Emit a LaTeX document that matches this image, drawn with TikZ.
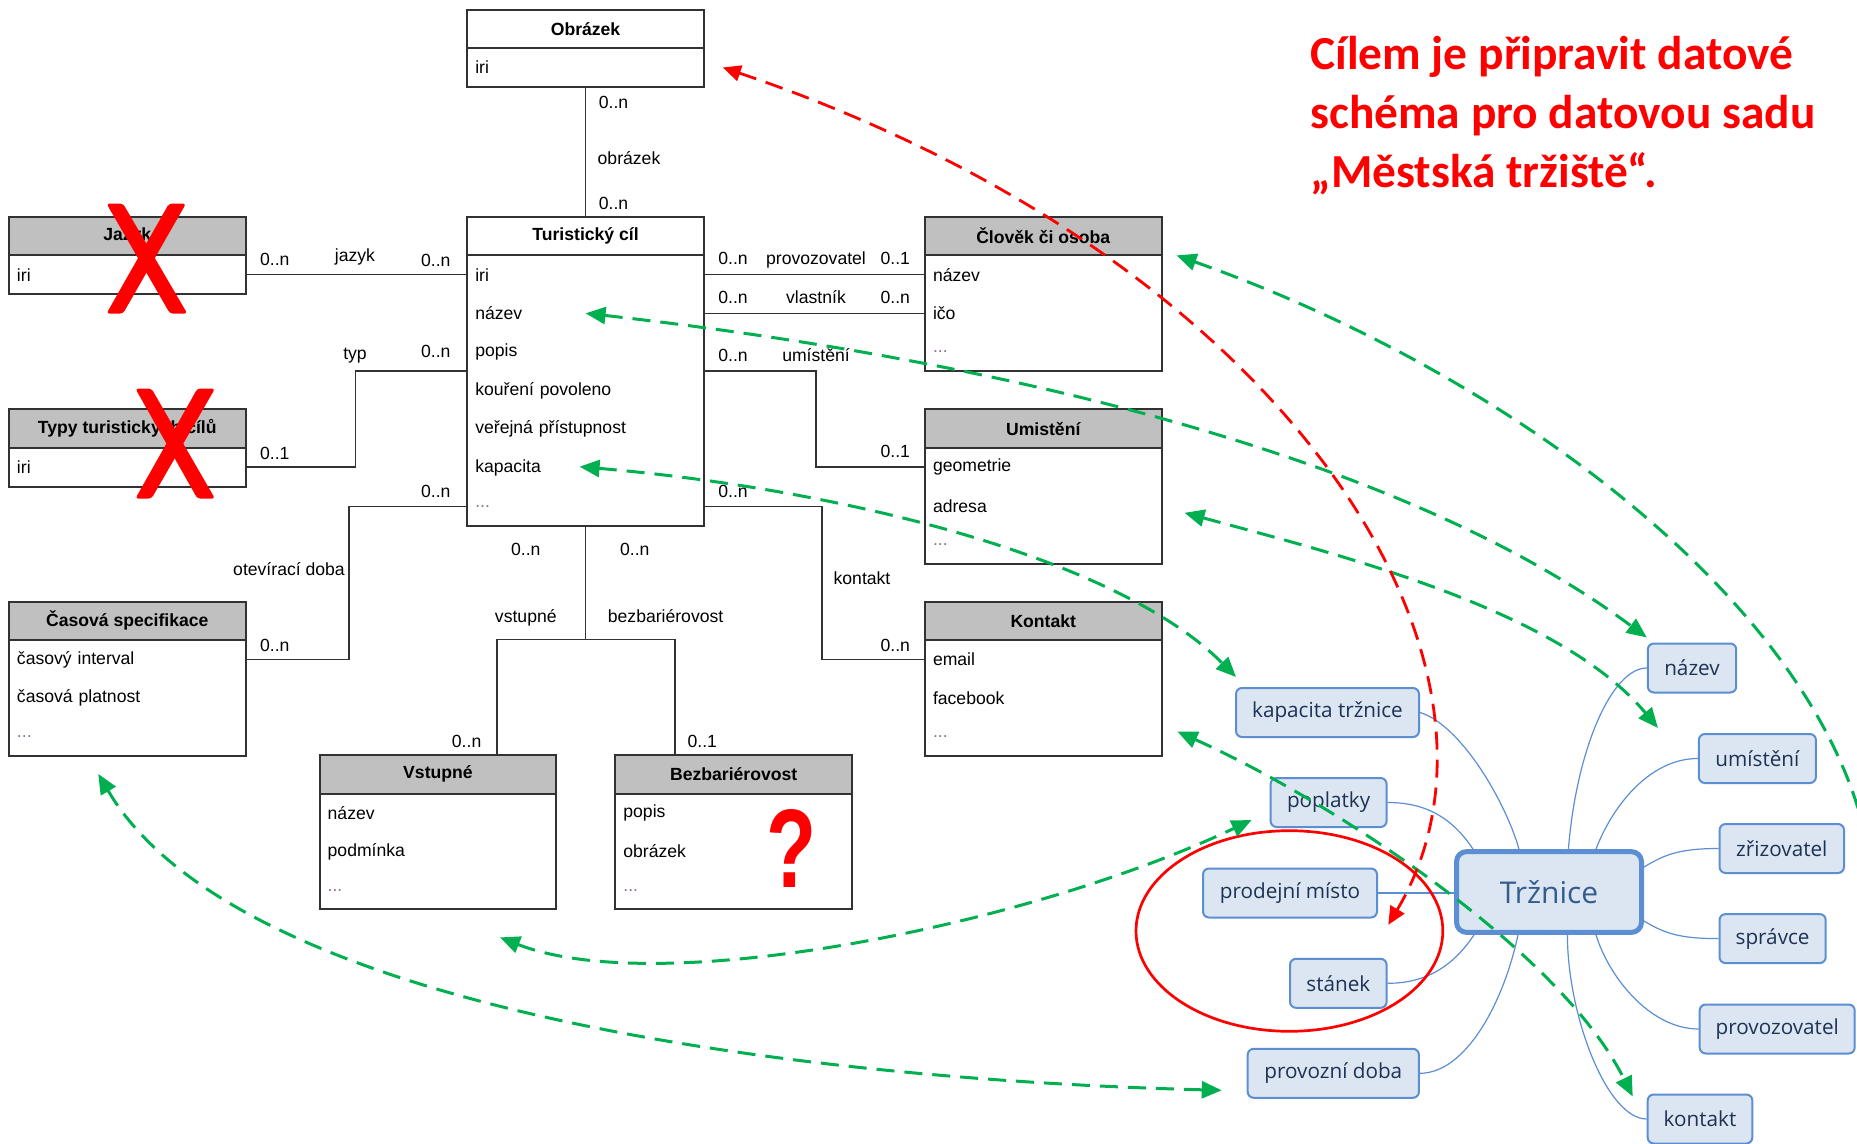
\documentclass[tikz,border=0pt]{standalone}
\usepackage{fontspec}
\setmainfont{Liberation Sans}
\newfontfamily\mmfont{Open Sans}
\newfontfamily\ttlfont{Carlito}
\usepackage{graphicx}
\usetikzlibrary{arrows.meta,calc}
\definecolor{boxgray}{RGB}{50,50,50}
\definecolor{hdrgray}{RGB}{192,192,192}
\definecolor{dotgray}{RGB}{140,110,150}
\definecolor{mmblue}{RGB}{92,142,210}
\definecolor{mmfill}{RGB}{220,230,242}
\definecolor{mmtext}{RGB}{30,50,84}
\definecolor{trtext}{RGB}{52,92,140}
\definecolor{ggreen}{RGB}{0,176,80}
\definecolor{rred}{RGB}{255,0,0}
\newcommand{\umlfont}{\fontsize{8.8}{10.5}\selectfont}
\tikzset{
  hdr/.style={draw=boxgray, line width=1pt, anchor=north west, minimum width=118.25pt, minimum height=19.3pt, inner sep=0pt, outer sep=0pt, font=\umlfont\bfseries},
  classbody/.style={draw=boxgray, line width=1pt, anchor=north west, minimum width=118.25pt, inner sep=0pt, outer sep=0pt},
  rowtxt/.style={anchor=north west, text width=110.25pt, inner xsep=4pt, inner ysep=0pt, minimum height=19.3pt, outer sep=0pt, align=left, font=\umlfont},
  conn/.style={draw=boxgray, line width=0.75pt},
  lbl/.style={anchor=base, inner sep=0pt, font=\umlfont},
  mm/.style={draw=mmblue, line width=1pt, fill=mmfill, rounded corners=3pt, minimum height=24.5pt, inner sep=0pt, font=\mmfont\fontsize{10.35}{12}\selectfont, text=mmtext},
  mmroot/.style={draw=mmblue, line width=2.5pt, fill=mmfill, rounded corners=5pt, minimum width=92.5pt, minimum height=40.35pt, inner sep=0pt, font=\mmfont\fontsize{15}{18}\selectfont, text=trtext},
  mmlink/.style={draw=mmblue, line width=0.6pt},
  garrow/.style={draw=ggreen, line width=1.5pt, dash pattern=on 9pt off 5pt, arrows={Triangle[length=10pt,width=8.5pt]-Triangle[length=10pt,width=8.5pt]}},
  garrowone/.style={draw=ggreen, line width=1.5pt, dash pattern=on 9pt off 5pt, arrows={Triangle[length=10pt,width=8.5pt]-}},
  rarrow/.style={draw=rred, line width=1.4pt, dash pattern=on 9pt off 5pt, arrows={Triangle[length=9pt,width=8pt]-Triangle[length=9pt,width=8pt]}},
  ttl/.style={anchor=base west, inner sep=0pt, text=rred, font=\ttlfont\bfseries\fontsize{23.7}{28}\selectfont}
}
% #1 name, #2 left, #3 top, #4 title, #5 header fill, #6 number of rows, #7 rows
\newcommand{\umlclass}[7]{%
  \node[hdr, fill=#5] (#1h) at (#2,#3) {\raisebox{-1pt}{#4}};
  \node[classbody, minimum height=#6*19.3pt] (#1b) at (#2,{#3+38.6}) {};
  \foreach \rowtext [count=\rowi] in {#7} {%
    \node[rowtxt] (#1\rowi) at (#2,{#3+38.6*\rowi}) {\rowtext};
  }%
}
\newcommand{\dotsrow}{{\color{dotgray}...}}
\begin{document}
\begin{tikzpicture}[x=0.5pt,y=-0.5pt]
\useasboundingbox (0,0) rectangle (1857,1144);
\fill[white] (0,0) rectangle (1857,1144);

% ---------- UML classes ----------
\umlclass{ob}{467.3}{9.6}{Obrázek}{white}{1}{iri}
\umlclass{tc}{467.3}{216.8}{Turistický cíl}{white}{7}{iri,název,popis,kouření povoleno,veřejná přístupnost,kapacita,\dotsrow}
\umlclass{jz}{9}{216.8}{Jazyk}{hdrgray}{1}{iri}
\umlclass{ty}{9}{409.3}{Typy turistických cílů}{hdrgray}{1}{iri}
\umlclass{cs}{9}{601.5}{Časová specifikace}{hdrgray}{3}{časový interval,časová platnost,\dotsrow}
\umlclass{cl}{925}{216.8}{Člověk či osoba}{hdrgray}{3}{název,ičo,\dotsrow}
\umlclass{um}{925}{409.3}{Umistění}{hdrgray}{3}{geometrie,adresa,\dotsrow}
\umlclass{ko}{925}{601.5}{Kontakt}{hdrgray}{3}{email,facebook,\dotsrow}
\umlclass{vs}{319.7}{755}{Vstupné}{hdrgray}{3}{název,podmínka,\dotsrow}
\umlclass{bz}{615.4}{755}{Bezbariérovost}{hdrgray}{3}{popis,obrázek,\dotsrow}

% ---------- UML connectors ----------
\draw[conn] (obb.south) -- (tch.north);
\draw[conn] (jz1.east) -- (tc1.west);
\draw[conn] (ty1.east) -- ++(110,0) |- (tc3.south west);
\draw[conn] (tc7.west) -- ++(-118.5,0) |- (cs1.east);
\draw[conn] (tc1.east) -- (cl1.west);
\draw[conn] (tc2.east) -- (cl2.west);
\draw[conn] (tc3.south east) -- ++(112,0) |- (um1.west);
\draw[conn] (tc7.east) -- ++(118,0) |- (ko1.west);
\draw[conn] (tcb.south) -- ++(0,114) coordinate (fork);
\coordinate (vsin) at ($(vsh.north)+(59,0)$);
\coordinate (bzin) at ($(bzh.north)+(-58.5,0)$);
\draw[conn] (vsin) |- (fork) -| (bzin);

% ---------- connector labels ----------
\node[lbl] (l1) at (613.5,109) {0..n};
\node[lbl] (l2) at (629,165) {obrázek};
\node[lbl] (l3) at (613.5,209.5) {0..n};
\node[lbl] (l4) at (274.8,266) {0..n};
\node[lbl] (l5) at (355,262) {jazyk};
\node[lbl] (l6) at (435.8,266.5) {0..n};
\node[lbl] (l7) at (355,360) {typ};
\node[lbl] (l8) at (435.8,357.5) {0..n};
\node[lbl] (l9) at (274.8,459) {0..1};
\node[lbl] (l10) at (435.8,497.5) {0..n};
\node[lbl] (l11) at (289,575) {otevírací doba};
\node[lbl] (l12) at (274.8,651) {0..n};
\node[lbl] (l13) at (525.8,555) {0..n};
\node[lbl] (l14) at (634.8,555) {0..n};
\node[lbl] (l15) at (525.8,622) {vstupné};
\node[lbl] (l16) at (665.6,622) {bezbariérovost};
\node[lbl] (l17) at (466.6,747) {0..n};
\node[lbl] (l18) at (702.3,747) {0..1};
\node[lbl] (l19) at (733,265) {0..n};
\node[lbl] (l20) at (816,265) {provozovatel};
\node[lbl] (l21) at (895.3,265) {0..1};
\node[lbl] (l22) at (733,304) {0..n};
\node[lbl] (l23) at (816,304) {vlastník};
\node[lbl] (l24) at (895.3,304) {0..n};
\node[lbl] (l25) at (733,362) {0..n};
\node[lbl] (l26) at (816,362) {umístění};
\node[lbl] (l27) at (895.3,458) {0..1};
\node[lbl] (l28) at (733,497.5) {0..n};
\node[lbl] (l29) at (862,584) {kontakt};
\node[lbl] (l30) at (895.3,651) {0..n};

% ---------- mind map ----------
\node[mmroot] (tr) at (1549,892) {Tržnice};
\node[mm, minimum width=91.5pt] (kap) at (1327.5,712.5) {kapacita tržnice};
\node[mm, minimum width=58pt] (pop) at (1328.6,802.5) {poplatky};
\node[mm, minimum width=87pt] (pm) at (1290,893) {prodejní místo};
\node[mm, minimum width=48.3pt] (st) at (1338.3,983.3) {stánek};
\node[mm, minimum width=85.6pt] (pd) at (1333.3,1073.3) {provozní doba};
\node[mm, minimum width=44.2pt] (naz) at (1692,668) {název};
\node[mm, minimum width=58.5pt] (umi) at (1757.4,758.5) {umístění};
\node[mm, minimum width=62.2pt] (zr) at (1781.8,848.5) {zřizovatel};
\node[mm, minimum width=53.1pt] (sp) at (1772.6,938.6) {správce};
\node[mm, minimum width=77.5pt] (pv) at (1777.2,1029) {provozovatel};
\node[mm, minimum width=52.3pt] (kt) at (1700,1119) {kontakt};

\draw[mmlink] (kap.east) .. controls +(40,12) and +(-14,-49) .. ($(tr.north)+(-30,0)$);
\draw[mmlink] (pop.east) .. controls +(40,0) and +(-20,-30) .. ($(tr.north)+(-76,0)$);
\draw[mmlink] (pm.east) -- (pm.east -| tr.west);
\draw[mmlink] (st.east) .. controls +(40,0) and +(-20,30) .. ($(tr.south)+(-75,0)$);
\draw[mmlink] (pd.east) .. controls +(45,0) and +(-15,70) .. ($(tr.south)+(-31,0)$);
\draw[mmlink] (naz.west) .. controls +(-35,0) and +(8,-100) .. ($(tr.north)+(19.4,0)$);
\draw[mmlink] (umi.west) .. controls +(-50,0) and +(15,-40) .. ($(tr.north)+(47,0)$);
\draw[mmlink] (zr.west) .. controls +(-40,0) and +(20,-12) .. ($(tr.east)+(0,-25)$);
\draw[mmlink] (sp.west) .. controls +(-40,0) and +(20,12) .. ($(tr.east)+(0,29)$);
\draw[mmlink] (pv.west) .. controls +(-50,0) and +(12,40) .. ($(tr.south)+(47,0)$);
\draw[mmlink] (kt.west) .. controls +(-40,0) and +(0,80) .. ($(tr.south)+(18.4,0)$);

% ---------- red ellipse ----------
\draw[rred, line width=1.35pt] (1289.4,931) ellipse [x radius=76.7pt, y radius=50.15pt];

% ---------- dashed mapping arrows ----------
\coordinate (gedge) at (1862,822);
\draw[garrow] (tc2.center) .. controls (985,358) and (1396,452) .. ($(naz.north west)+(0,-5)$);
\draw[garrowone] ($(clh.south east)+(15,0)$) .. controls (1500,370) and (1800,590) .. (gedge);
\draw[garrow] ($(um2.east)+(23,7)$) .. controls (1340,555) and (1560,610) .. ($(umi.north west)+(-40,-5)$);
\draw[garrow] ($(tc6.center)+(-6,-1)$) .. controls (850,490) and (1120,560) .. ($(kap.north west)+(1,-10)$);
\draw[garrow] ($(ko3.east)+(16,-5)$) .. controls (1330,800) and (1560,950) .. ($(kt.north west)+(-14,3)$);
\draw[garrow] ($(vsb.south)+(62,28)$) .. controls (660,1000) and (1030,925) .. ($(pop.south west)+(-18,-8)$);
\draw[garrow] ($(csb.south)+(-29,18)$) .. controls (240,1015) and (820,1080) .. ($(pd.west)+(-25,17)$);
\draw[rarrow] ($(ob1.east)+(19,0)$) .. controls (1292,260) and (1541,667) .. ($(st.north)+(50,-33)$);

% ---------- red marks ----------
\fill[rred, rounded corners=1.5pt] (106.5,203.6) -- (123,203.6) -- (187.3,313.6) -- (170,313.6) -- cycle;
\fill[rred, rounded corners=1.5pt] (169,203.6) -- (186,203.6) -- (123,313.6) -- (106.5,313.6) -- cycle;
\fill[rred, rounded corners=1.5pt] (135.4,388.6) -- (151.5,388.6) -- (215,498.6) -- (197.4,498.6) -- cycle;
\fill[rred, rounded corners=1.5pt] (197.4,388.6) -- (215,388.6) -- (151.5,498.6) -- (135.4,498.6) -- cycle;
\node[text=rred, inner sep=0pt] (qm) at (791.5,848) {\resizebox{25pt}{39pt}{\bfseries ?}};

% ---------- title ----------
\node[ttl] (t1) at (1310,70) {Cílem je připravit datové};
\node[ttl] (t2) at (1310,129) {schéma pro datovou sadu};
\node[ttl] (t3) at (1310,188) {„Městská tržiště“.};
\end{tikzpicture}
\end{document}
